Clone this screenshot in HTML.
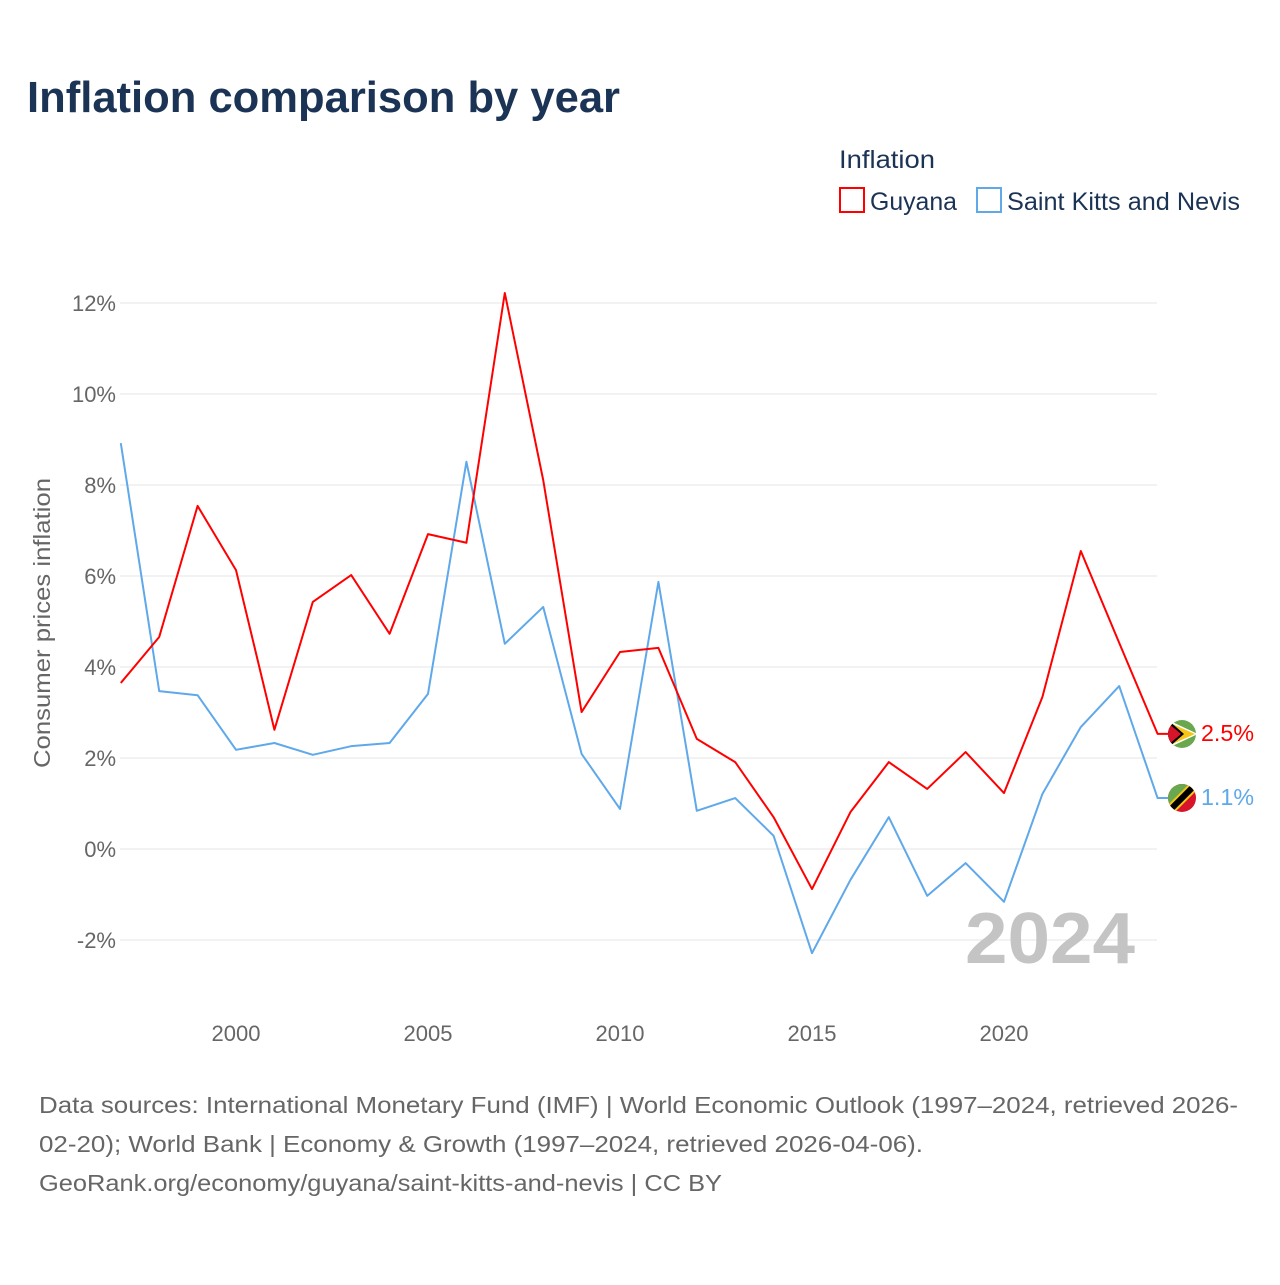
<!DOCTYPE html>
<html><head><meta charset="utf-8"><style>
body{margin:0;background:#fff;width:1280px;height:1280px;overflow:hidden;font-family:"Liberation Sans",sans-serif}
</style></head><body>
<svg width="1280" height="1280" xmlns="http://www.w3.org/2000/svg">
<text x="27" y="112" font-size="44" font-weight="bold" fill="#1b3354" textLength="593" lengthAdjust="spacingAndGlyphs">Inflation comparison by year</text>
<text x="839" y="168" font-size="25" fill="#1b3354" textLength="96" lengthAdjust="spacingAndGlyphs">Inflation</text>
<g><rect x="840" y="188" width="24" height="24" fill="none" stroke="#f00" stroke-width="2"/><text x="870" y="210" font-size="25" fill="#1b3354" textLength="87" lengthAdjust="spacingAndGlyphs">Guyana</text></g>
<g><rect x="977" y="188" width="24" height="24" fill="none" stroke="#5fa8ea" stroke-width="2"/><text x="1007" y="210" font-size="25" fill="#1b3354" textLength="233" lengthAdjust="spacingAndGlyphs">Saint Kitts and Nevis</text></g>
<g id="grid"></g><g id="ylab"></g><g id="xlab"></g>
<text x="50" y="623" font-size="23" fill="#666" text-anchor="middle" transform="rotate(-90 50 623)" textLength="290" lengthAdjust="spacingAndGlyphs">Consumer prices inflation</text>
<text x="1135" y="963" font-size="72" font-weight="bold" fill="#c4c4c4" text-anchor="end" textLength="170" lengthAdjust="spacingAndGlyphs">2024</text>
<g id="series"></g>
<g><clipPath id="c1"><circle cx="1182" cy="734" r="14"/></clipPath><g clip-path="url(#c1)"><rect x="1168" y="720" width="28" height="28" fill="#6aa84f"/><polygon points="1168,720 1198,734 1168,748" fill="#fff"/><polygon points="1168,722 1195,734 1168,746" fill="#f5c518"/><polygon points="1168,720 1184,734 1168,748" fill="#000"/><polygon points="1168,723 1181,734 1168,745" fill="#d7142a"/></g></g>
<g><clipPath id="c2"><circle cx="1182" cy="798" r="14"/></clipPath><g clip-path="url(#c2)"><rect x="1168" y="784" width="28" height="28" fill="#d7142a"/><polygon points="1168,784 1196,784 1168,812" fill="#6aa84f"/><line x1="1168" y1="812" x2="1196" y2="784" stroke="#f5c518" stroke-width="10"/><line x1="1168" y1="812" x2="1196" y2="784" stroke="#000" stroke-width="6"/></g></g>
<text x="1201" y="741" font-size="23" fill="#f00" textLength="53" lengthAdjust="spacingAndGlyphs">2.5%</text>
<text x="1201" y="805" font-size="23" fill="#5fa8ea" textLength="53" lengthAdjust="spacingAndGlyphs">1.1%</text>
<text font-size="23" fill="#666"><tspan x="39" y="1113" textLength="1199" lengthAdjust="spacingAndGlyphs">Data sources: International Monetary Fund (IMF) | World Economic Outlook (1997–2024, retrieved 2026-</tspan><tspan x="39" y="1152" textLength="884" lengthAdjust="spacingAndGlyphs">02-20); World Bank | Economy &amp; Growth (1997–2024, retrieved 2026-04-06).</tspan><tspan x="39" y="1191" textLength="683" lengthAdjust="spacingAndGlyphs">GeoRank.org/economy/guyana/saint-kitts-and-nevis | CC BY</tspan></text>
</svg>
<script>
const years=[1997,1998,1999,2000,2001,2002,2003,2004,2005,2006,2007,2008,2009,2010,2011,2012,2013,2014,2015,2016,2017,2018,2019,2020,2021,2022,2023,2024];
const guyana=[3.65,4.66,7.54,6.13,2.62,5.43,6.02,4.73,6.92,6.73,12.22,8.11,3.01,4.33,4.42,2.42,1.91,0.70,-0.88,0.81,1.91,1.32,2.13,1.23,3.34,6.55,4.53,2.53];
const skn=[8.92,3.47,3.38,2.18,2.33,2.07,2.26,2.33,3.41,8.51,4.51,5.32,2.09,0.88,5.87,0.84,1.12,0.29,-2.29,-0.68,0.70,-1.03,-0.31,-1.16,1.21,2.68,3.58,1.12];
const yTicks=[-2,0,2,4,6,8,10,12];
const xTicks=[2000,2005,2010,2015,2020];
const NS='http://www.w3.org/2000/svg';
const x=v=>120.8+(v-1997)*38.4;
const y=v=>849-v*45.5;
function mk(t,a,p){const e=document.createElementNS(NS,t);for(const k in a)e.setAttribute(k,a[k]);p.appendChild(e);return e;}
const grid=document.getElementById('grid'),yl=document.getElementById('ylab'),xl=document.getElementById('xlab'),ser=document.getElementById('series');
yTicks.forEach(t=>{
 const l=mk('line',{x1:120,x2:1157,y1:y(t),y2:y(t),stroke:'#e6e6e6','stroke-width':1},grid);
 
 
 const tx=mk('text',{x:116,y:y(t)+8,'font-size':22,fill:'#666','text-anchor':'end'},yl);
 tx.textContent=t+'%';
 
 
});
xTicks.forEach(t=>{
 const tx=mk('text',{x:x(t),y:1041,'font-size':22,fill:'#666','text-anchor':'middle'},xl);
 tx.textContent=t;
 
 
});
function line(vals,color,name){
 let d=vals.map((v,i)=>(i?'L':'M')+x(years[i])+','+y(v)).join(' ');
 d+=' L1168,'+y(vals[vals.length-1]);
 const p=mk('path',{d:d,fill:'none',stroke:color,'stroke-width':2,'stroke-linejoin':'round'},ser);
 
 
}
line(skn,'#5fa8ea','line-saint-kitts-and-nevis');
line(guyana,'#f00','line-guyana');
</script>
</body></html>
